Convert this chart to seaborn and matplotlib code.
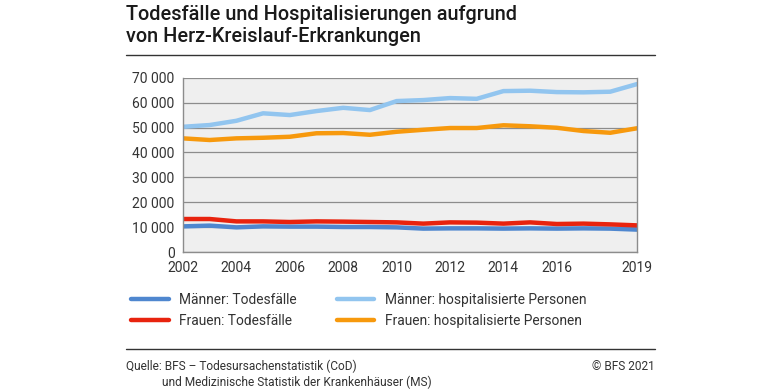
import numpy as np
import pandas as pd
import matplotlib
matplotlib.use("Agg")
import matplotlib.pyplot as plt
import seaborn as sns
from matplotlib.ticker import FuncFormatter

years = list(range(2002, 2020))

maenner_tod = [10400, 10700, 10000, 10400, 10300, 10300, 10150, 10150, 10000,
               9500, 9600, 9600, 9500, 9600, 9500, 9600, 9500, 9100]
frauen_tod = [13350, 13350, 12400, 12400, 12150, 12400, 12300, 12150, 12000,
              11500, 12000, 11900, 11500, 12000, 11350, 11500, 11200, 10800]
maenner_hosp = [50300, 51000, 52700, 55700, 55000, 56600, 57900, 57000, 60600,
                61000, 61800, 61500, 64600, 64750, 64200, 64100, 64350, 67400]
frauen_hosp = [45660, 45000, 45660, 45900, 46300, 47700, 47800, 47100, 48300,
               49100, 49800, 49800, 50900, 50500, 49900, 48600, 47900, 49700]

series_names = ["Männer: Todesfälle", "Frauen: Todesfälle",
                "Männer: hospitalisierte Personen", "Frauen: hospitalisierte Personen"]
colors = ["#4f87cf", "#e8230e", "#92c5ef", "#f7990d"]

df = pd.DataFrame({
    "Jahr": years * 4,
    "Wert": maenner_tod + frauen_tod + maenner_hosp + frauen_hosp,
    "Serie": np.repeat(series_names, len(years)),
})

sns.set_theme(style="white")
plt.rcParams["font.family"] = ["Roboto", "DejaVu Sans"]

fig = plt.figure(figsize=(7.8, 3.9), dpi=100)
ax = fig.add_axes([0.2346, 0.353, 0.582, 0.448])
ax.set_facecolor("#efefef")

sns.lineplot(data=df, x="Jahr", y="Wert", hue="Serie", hue_order=series_names,
             palette=colors, linewidth=3.2, ax=ax, legend=False)

ax.set_xlim(2002, 2019)
ax.set_ylim(0, 70000)
ax.set_yticks(range(0, 70001, 10000))
ax.yaxis.set_major_formatter(FuncFormatter(lambda v, p: f"{int(v):,}".replace(",", " ")))
ax.set_xticks(years)
ax.set_xticklabels([str(y) if (y % 2 == 0 and y != 2018) or y == 2019 else "" for y in years])
ax.grid(axis="y", color="#8c8c8c", linewidth=0.9)
ax.set_axisbelow(True)
for side in ["left", "bottom", "right"]:
    ax.spines[side].set_color("#8c8c8c")
    ax.spines[side].set_linewidth(1.0)
ax.spines["top"].set_visible(False)
ax.tick_params(axis="both", labelsize=10, colors="#8c8c8c", labelcolor="#333333",
               length=4, width=1.0, direction="out")
ax.tick_params(axis="y", length=3, pad=3)
ax.tick_params(axis="x", pad=2)
ax.set_xlabel("")
ax.set_ylabel("")

# title and rules
fig.text(0.1615, 0.988, "Todesfälle und Hospitalisierungen aufgrund\nvon Herz-Kreislauf-Erkrankungen",
         fontsize=14.3, fontweight="medium", color="#1a1a1a", va="top", ha="left",
         linespacing=1.22)
fig.add_artist(plt.Line2D([0.1615, 0.84], [0.86, 0.86], color="#333333", linewidth=1.0))
fig.add_artist(plt.Line2D([0.1615, 0.84], [0.106, 0.106], color="#333333", linewidth=1.0))

handles = ax.get_lines()[:4]
fig.legend(handles, series_names, loc="upper left", bbox_to_anchor=(0.152, 0.28),
           ncol=2, frameon=False, fontsize=9.9, handlelength=2.75, handletextpad=0.75,
           columnspacing=2.9, labelspacing=0.5, labelcolor="#333333")

fig.text(0.1615, 0.06, "Quelle: BFS – Todesursachenstatistik (CoD)", fontsize=8.6,
         color="#333333", va="center")
fig.text(0.2075, 0.02, "und Medizinische Statistik der Krankenhäuser (MS)", fontsize=8.6,
         color="#333333", va="center")
fig.text(0.84, 0.06, "© BFS 2021", fontsize=8.6, color="#333333", va="center", ha="right")

fig.savefig("out.png", dpi=100)
